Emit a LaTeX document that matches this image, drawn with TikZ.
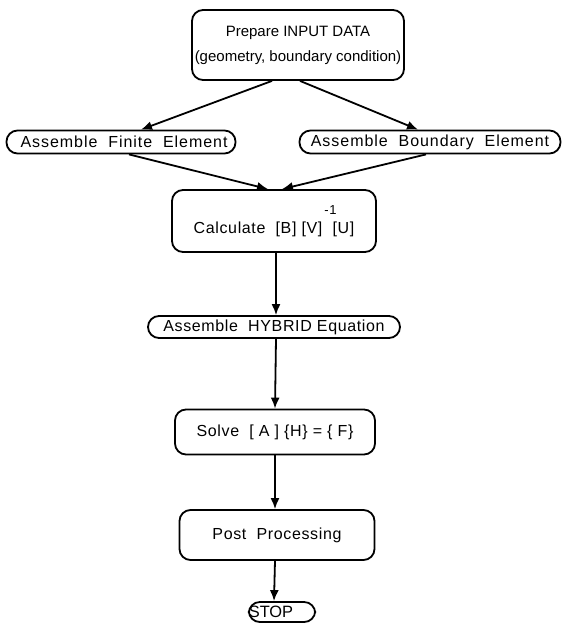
\documentclass[tikz,border=0pt]{standalone}
\usepackage{fontspec}
\setmainfont{Liberation Sans}[LetterSpace=4]
\newfontfamily\etroite{Liberation Sans}
\newfontfamily\espacee{Liberation Sans}[LetterSpace=6,WordSpace=2]
\usetikzlibrary{arrows.meta}
\tikzset{
  boite/.style={draw, line width=0.9pt, rounded corners=5.5pt, inner sep=0pt,
    align=center, font=\fontsize{8}{12.5}\selectfont},
  fleche/.style={line width=0.9pt,-{Latex[length=5.5pt,width=4.5pt]}}
}

\begin{document}
\begin{tikzpicture}[x=0.5pt,y=-0.5pt]
\useasboundingbox (0,0) rectangle (562,623);
% boxes
\node [boite, minimum width=106pt, minimum height=35pt,
  font=\etroite\fontsize{7.5}{12.5}\selectfont] (input) at (298,45)
  {Prepare INPUT DATA\\(geometry, boundary condition)};
\node [boite, minimum width=114.5pt, minimum height=11.5pt,
  font=\espacee\fontsize{8}{10}\selectfont] (fe) at (121,142)
  {\hspace{3pt}Assemble Finite Element};
\node [boite, minimum width=130.5pt, minimum height=11.5pt,
  font=\espacee\fontsize{8}{10}\selectfont] (be) at (430,142)
  {Assemble Boundary Element};
\node [boite, minimum width=102pt, minimum height=31pt] (calc) at (274,221)
  {Calculate~ [B] [V]\rlap{\raisebox{2.3ex}{\fontsize{6.5}{7}\selectfont\hspace{1pt}-1}}~ [U]};
\node [boite, minimum width=126pt, minimum height=11pt] (hybrid) at (274,327)
  {Assemble~ HYBRID Equation};
\node [boite, minimum width=100pt, minimum height=22.5pt] (solve) at (275,432)
  {Solve~ [ A ] \{H\} = \{ F\}};
\node [boite, minimum width=32.5pt, minimum height=25pt, minimum width=97.5pt] (post) at (277,535)
  {Post~ Processing};
\node [boite, minimum width=32.5pt, minimum height=10pt,
  font=\etroite\fontsize{8.2}{8}\selectfont] (stop) at (282,612)
  {STOP\hspace{11pt}};
% connectors
\draw [fleche] ([xshift=-13pt]input.south) -- ([xshift=10pt]fe.north);
\draw [fleche] ([xshift=1pt]input.south) -- ([xshift=-6pt]be.north);
\draw [fleche] ([xshift=4pt]fe.south) -- ([xshift=-3pt]calc.north);
\draw [fleche] ([xshift=-2pt]be.south) -- ([xshift=4pt]calc.north);
\draw [fleche] ([xshift=1pt]calc.south) -- ([xshift=1pt]hybrid.north);
\draw [fleche] ([xshift=1pt]hybrid.south) -- (solve.north);
\draw [fleche] (solve.south) -- ([xshift=-1pt]post.north);
\draw [fleche] ([xshift=-1pt]post.south) -- ([xshift=-4pt]stop.north);
\end{tikzpicture}
\end{document}
